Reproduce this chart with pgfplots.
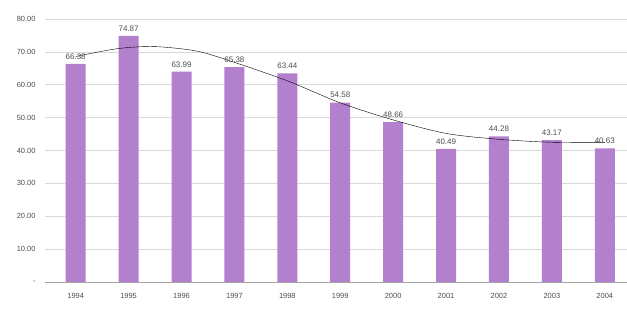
\documentclass[border=0pt]{standalone}
\usepackage{pgfplots}
\pgfplotsset{compat=1.18}
\usepackage{fontspec}
\setmainfont{Liberation Sans}
\definecolor{barc}{RGB}{178,128,204}
\definecolor{gridc}{RGB}{218,218,218}
\begin{document}
\begin{tikzpicture}
\begin{axis}[
  scale only axis,
  width=582bp, height=263bp,
  xmin=-0.58, xmax=10.42,
  ymin=0, ymax=80,
  axis line style={draw=none},
  xtick=data,
  xticklabels={1994,1995,1996,1997,1998,1999,2000,2001,2002,2003,2004},
  ytick={0,10,20,30,40,50,60,70,80},
  yticklabels={-,10.00,20.00,30.00,40.00,50.00,60.00,70.00,80.00},
  tick style={draw=none},
  ymajorgrids, grid style={gridc, line width=0.6pt},
  ticklabel style={font=\fontsize{7.5}{8}\selectfont, text=black!70},
  xticklabel style={yshift=-8pt},
  yticklabel style={xshift=-6pt},
  clip=false,
]
\addplot[ybar, bar width=20bp, fill=barc, draw=none,
  nodes near coords,
  nodes near coords style={font=\fontsize{8}{9}\selectfont, text=black!70, /pgf/number format/assume math mode=true, /pgf/number format/fixed, /pgf/number format/precision=2, /pgf/number format/fixed zerofill, yshift=1pt},
] coordinates {
(0,66.38) (1,74.87) (2,63.99) (3,65.38) (4,63.44) (5,54.58) (6,48.66) (7,40.49) (8,44.28) (9,43.17) (10,40.63)};
\addplot[black, thin, smooth, mark=none] coordinates {
(0,68.6) (0.8,71.0) (1.5,71.6) (2.3,70.2) (3,66.8) (4,61.2) (5,54.5) (6,49.3) (7,45.2) (8,43.4) (9,42.5) (10,42.4)};
\draw[gridc!75!black, line width=0.6pt] (rel axis cs:0,0) -- (rel axis cs:1,0);
\coordinate (bl) at (rel axis cs:0,0);
\coordinate (tr) at (rel axis cs:1,1);
\end{axis}
\pgfresetboundingbox
\path[use as bounding box] ([shift={(-45bp,-30bp)}]bl) rectangle ([shift={(0bp,19bp)}]tr);
\end{tikzpicture}
\end{document}
